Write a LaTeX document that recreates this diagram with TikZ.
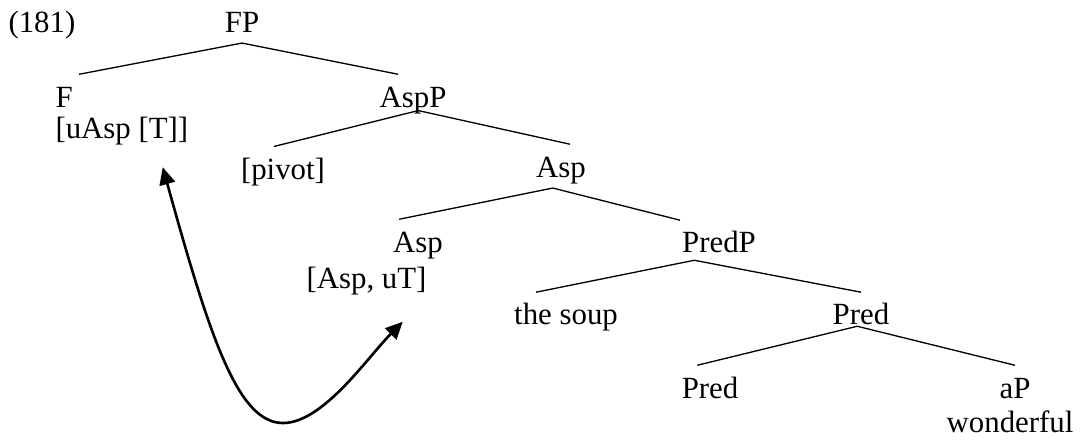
\documentclass[tikz,border=0pt]{standalone}
\usepackage{fontspec}
\setmainfont{Liberation Serif}
\usetikzlibrary{arrows.meta,positioning,calc}

\begin{document}
\begin{tikzpicture}
  \tikzstyle{cat}=[inner sep=0pt, anchor=base, text height=0.43cm, text depth=0.09cm, font=\fontsize{11.7}{14}\selectfont]
  \tikzstyle{feat}=[inner sep=0pt, anchor=base, font=\fontsize{11.7}{14}\selectfont]
  \tikzstyle{branch}=[line width=0.5pt]
  \tikzstyle{move}=[{Triangle[length=0.23cm,width=0.21cm]}-{Triangle[length=0.23cm,width=0.21cm]}, line width=1pt]

  \useasboundingbox (0,0) rectangle (14.4,-5.88);

  % Numero del ejemplo
  \node[feat, anchor=base west] (num) at (0.107,-0.427) {(181)};

  % FP y F
  \node[cat] (FP) at (3.227,-0.427) {FP};
  \node[cat, anchor=base west] (F) at (0.733,-1.427) {F};
  \node[feat, anchor=base west] (Ffeat) at (0.733,-1.85) {[uAsp [T]]};

  % AspP
  \node[cat] (AspP) at (5.507,-1.427) {AspP};
  \node[cat] (pivot) at (3.773,-2.39) {[pivot]};
  \node[cat] (Asp) at (7.48,-2.36) {Asp};

  % Asp
  \node[cat] (AspHead) at (5.573,-3.36) {Asp};
  \node[feat] (Aspfeat) at (4.887,-3.84) {[Asp, uT]};
  \node[cat] (PredP) at (9.587,-3.373) {PredP};

  % PredP
  \node[cat] (soup) at (7.547,-4.333) {the soup};
  \node[cat] (Pred) at (11.48,-4.333) {Pred};
  \node[cat] (PredHead) at (9.467,-5.307) {Pred};
  \node[cat] (aP) at (13.533,-5.307) {aP};
  \node[feat] (aPfeat) at (13.467,-5.773) {wonderful};

  % Ramas
  \draw[branch] ([yshift=-0.05cm]FP.south) -- ([xshift=0.2cm]F.north);
  \draw[branch] ([yshift=-0.05cm]FP.south) -- ([xshift=-0.2cm]AspP.north);
  \draw[branch] ([xshift=0.07cm,yshift=0.05cm]AspP.south) -- ([xshift=-0.12cm]pivot.north);
  \draw[branch] ([xshift=0.07cm,yshift=0.05cm]AspP.south) -- ([xshift=0.12cm]Asp.north);
  \draw[branch] ([xshift=-0.11cm,yshift=-0.05cm]Asp.south) -- ([xshift=-0.25cm]AspHead.north);
  \draw[branch] ([xshift=-0.11cm,yshift=-0.05cm]Asp.south) -- ([xshift=-0.52cm]PredP.north);
  \draw[branch] ([xshift=-0.33cm]PredP.south) -- ([xshift=-0.4cm]soup.north);
  \draw[branch] ([xshift=-0.33cm]PredP.south) -- (Pred.north);
  \draw[branch] ([xshift=-0.05cm,yshift=0.08cm]Pred.south) -- ([xshift=-0.17cm]PredHead.north);
  \draw[branch] ([xshift=-0.05cm,yshift=0.08cm]Pred.south) -- (aP.north);

  % Movimiento
  \coordinate (tipF) at (2.17,-2.23);
  \coordinate (tipAsp) at (5.37,-4.29);
  \draw[move] (tipF) .. controls (2.8,-4.507) and (3.173,-5.64) .. (3.773,-5.64)
    .. controls (4.307,-5.64) and (4.893,-4.773) .. (tipAsp);
\end{tikzpicture}
\end{document}
